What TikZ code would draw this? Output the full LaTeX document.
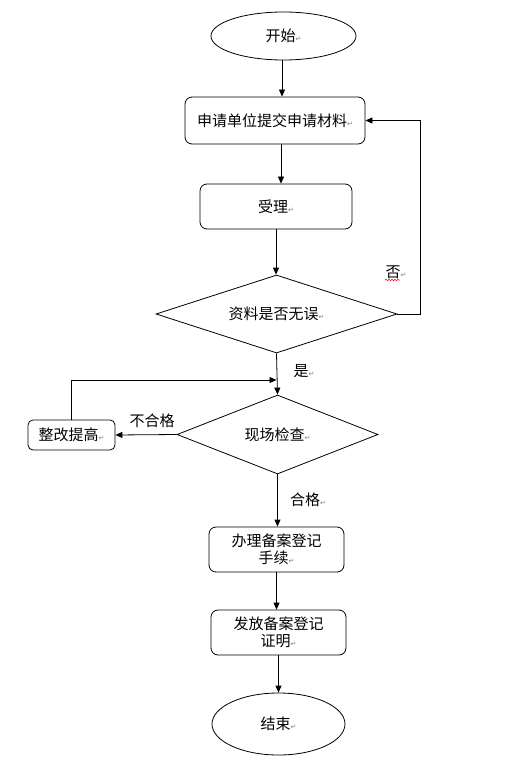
\documentclass[tikz,border=0pt]{standalone}
\usepackage{fontspec}
\newfontfamily\cjk{Noto Sans CJK SC}
\newfontfamily\markfont{DejaVu Sans}
\usetikzlibrary{shapes.geometric,arrows.meta,decorations.pathmorphing}
\newcommand{\pmark}{{\markfont\fontsize{7}{8}\selectfont\color{gray}↵}}
\begin{document}
\begin{tikzpicture}[x=1pt,y=-1pt,
  base/.style={draw=black,line width=0.8pt,font=\cjk\fontsize{15}{17}\selectfont,inner sep=0pt,align=center},
  term/.style={base,ellipse},
  procbox/.style={base,rounded corners=7pt,rectangle},
  decide/.style={base,diamond},
  lab/.style={font=\cjk\fontsize{15}{17}\selectfont,inner sep=0pt},
  arr/.style={line width=0.8pt,-{Triangle[length=7pt,width=6pt]}},
  ln/.style={line width=0.8pt}]
\useasboundingbox (0,0) rectangle (522,762);
\node[term,minimum width=145pt,minimum height=48pt] (start) at (283.5,36) {开始\pmark};
\node[procbox,minimum width=180pt,minimum height=47pt] (b1) at (275,120.5) {申请单位提交申请材料\pmark};
\node[procbox,minimum width=152pt,minimum height=45pt] (b2) at (276,206.5) {受理\pmark};
\node[decide,aspect=3.1,minimum width=241pt,minimum height=78pt] (d1) at (276.5,314) {资料是否无误\pmark};
\node[decide,aspect=2.55,minimum width=201pt,minimum height=79pt] (d2) at (277.5,434.5) {现场检查\pmark};
\node[procbox,rounded corners=5pt,minimum width=87pt,minimum height=30pt] (fix) at (71.5,435) {整改提高\pmark};
\node[procbox,minimum width=135pt,minimum height=45pt] (b3) at (276.5,549.5) {办理备案登记\\手续\pmark};
\node[procbox,minimum width=135pt,minimum height=45pt] (b4) at (278.5,632.5) {发放备案登记\\证明\pmark};
\node[term,minimum width=133pt,minimum height=62pt] (stop) at (278.5,724) {结束\pmark};

\node[lab] (no) at (396,272) {否\pmark};
\node[lab] (yes) at (304,371) {是\pmark};
\node[lab] (fail) at (152,421) {不合格};
\node[lab] (pass) at (308,500) {合格\pmark};
\coordinate (wa) at (385,280);
\coordinate (wb) at (400,280);
\draw[red,line width=0.5pt,decorate,decoration={snake,amplitude=0.8pt,segment length=3pt}] (wa) -- (wb);

\draw[arr] ([xshift=-1.5pt]start.south) -- ([xshift=-1.5pt]start.south |- b1.north);
\draw[arr] ([xshift=6pt]b1.south) -- ([xshift=6pt]b1.south |- b2.north);
\draw[arr] (b2.south) -- (b2.south |- d1.north);
\draw[arr] (d1.east) -- ++(23,0) |- (b1.east);
\draw[arr] (d1.south) -- (d2.north);
\draw[arr] (d2.west) -- (fix.east);
\coordinate (j) at (276.5,380);
\draw[arr] (fix.north) |- (j);
\draw[arr] (d2.south) -- (d2.south |- b3.north);
\draw[arr] (b3.south) -- (b3.south |- b4.north);
\draw[arr] (b4.south) -- (b4.south |- stop.north);
\end{tikzpicture}
\end{document}
